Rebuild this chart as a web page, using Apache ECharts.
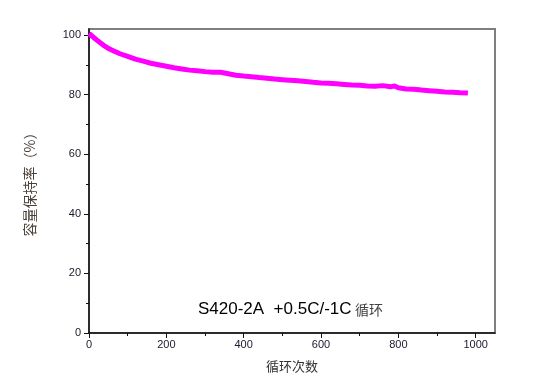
<!DOCTYPE html>
<html>
<head>
<meta charset="utf-8">
<script src="https://cdn.jsdelivr.net/npm/echarts@6/dist/echarts.min.js"></script>
<style>
  html, body { margin: 0; padding: 0; background: #fff; }
  #chart { width: 540px; height: 387px; }
</style>
</head>
<body>
<div id="chart"></div>
<script>
// cycle number / capacity retention (%)
var cycles = [0, 5, 10, 20, 30, 40, 50, 60, 80, 100, 120, 140, 160, 180, 200, 220, 240, 260, 280, 300,
  320, 340, 360, 380, 400, 420, 440, 460, 480, 500, 520, 540, 560, 580, 600, 620, 640, 660, 680, 700,
  720, 740, 760, 780, 790, 800, 820, 840, 860, 880, 900, 920, 940, 960, 980];
var retention = [100.5, 100.2, 99.4, 98.3, 97.3, 96.3, 95.5, 94.9, 93.7, 92.8, 91.9, 91.2, 90.5, 90.0, 89.5, 89.0, 88.6, 88.2, 88.0, 87.7,
  87.5, 87.5, 87.0, 86.5, 86.2, 86.0, 85.7, 85.5, 85.2, 85.0, 84.8, 84.6, 84.4, 84.1, 83.9, 83.8, 83.6, 83.4, 83.2, 83.1,
  82.9, 82.8, 83.0, 82.6, 82.9, 82.3, 81.9, 81.8, 81.5, 81.3, 81.1, 80.9, 80.8, 80.6, 80.5];
var xTicks = [0, 200, 400, 600, 800, 1000];
var yTicks = [0, 20, 40, 60, 80, 100];

var points = cycles.map(function (c, i) { return [c, retention[i]]; });

var chart = echarts.init(document.getElementById('chart'));
chart.setOption({
  animation: false,
  backgroundColor: '#fff',
  grid: {
    left: 89, right: 45, top: 29, bottom: 54,
    show: true, borderColor: '#7f7f7f', borderWidth: 2
  },
  xAxis: {
    type: 'value',
    min: 0, max: 1050, interval: 200,
    name: '循环次数',
    nameLocation: 'middle',
    nameGap: 27,
    nameTextStyle: { fontFamily: 'Noto Sans CJK SC', fontSize: 13, color: '#333' },
    axisLine: { onZero: false, lineStyle: { color: '#111', width: 1.5 } },
    axisTick: { inside: false, length: 5, customValues: xTicks, lineStyle: { color: '#111' } },
    minorTick: { show: true, splitNumber: 2, length: 3, lineStyle: { color: '#111' } },
    axisLabel: {
      customValues: xTicks, margin: 6, fontFamily: 'Liberation Sans', fontSize: 11, color: '#1a1a2a',
      formatter: function (v) { return String(v); }
    },
    splitLine: { show: false }
  },
  yAxis: {
    type: 'value',
    min: 0, max: 102, interval: 20,
    name: '容量保持率（%）',
    nameLocation: 'middle',
    nameGap: 52,
    nameRotate: 90,
    nameTextStyle: { fontFamily: 'Noto Sans CJK SC', fontSize: 14, color: '#4a4038' },
    axisLine: { onZero: false, lineStyle: { color: '#111', width: 1.5 } },
    axisTick: { inside: false, length: 5, customValues: yTicks, lineStyle: { color: '#111' } },
    minorTick: { show: true, splitNumber: 2, length: 3, lineStyle: { color: '#111' } },
    axisLabel: {
      customValues: yTicks, margin: 8, fontFamily: 'Liberation Sans', fontSize: 11, color: '#1a1a2a',
      formatter: function (v) { return String(v); }
    },
    splitLine: { show: false }
  },
  graphic: [{
    type: 'text',
    left: 198,
    top: 301,
    style: {
      text: '{a|S420-2A  +0.5C/-1C} {b|循环}',
      rich: {
        a: { fontFamily: 'Liberation Sans', fontSize: 17, fill: '#000' },
        b: { fontFamily: 'Noto Sans CJK SC', fontSize: 14, fill: '#444' }
      }
    }
  }],
  series: [{
    type: 'line',
    data: points,
    showSymbol: false,
    lineStyle: { color: '#ff00ff', width: 5 },
    itemStyle: { color: '#ff00ff' }
  }]
});
</script>
</body>
</html>
